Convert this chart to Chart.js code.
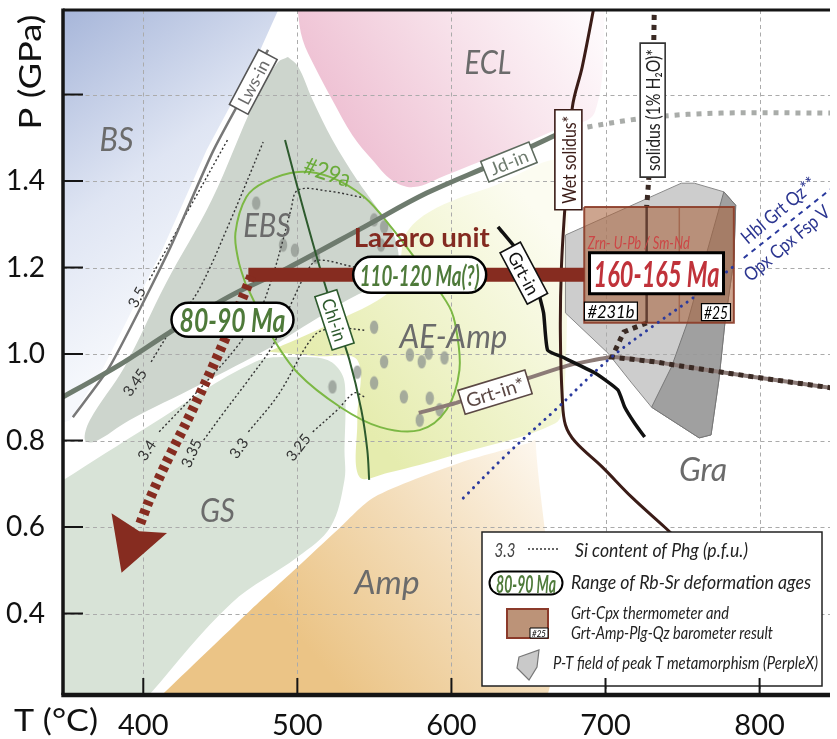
<!DOCTYPE html>
<html><head><meta charset="utf-8">
<script src="https://cdn.jsdelivr.net/npm/chart.js@4.4.1/dist/chart.umd.min.js"></script>
<style>html,body{margin:0;padding:0;background:#fff;}#wrap{width:837px;height:739px;position:relative;}</style>
</head><body><div id="wrap"><canvas id="c"></canvas></div>
<script>
// ---------- axes ----------
const X_RANGE = [347.9, 845.7];
const Y_RANGE = [0.2116, 1.7954];
const X_TICKS = [400, 500, 600, 700, 800];
const X_TICK_LABELS = ['400', '500', '600', '700', '800'];
const Y_TICKS = [0.4, 0.6, 0.8, 1.0, 1.2, 1.4, 1.6];
const Y_TICK_LABELS = ['0.4', '0.6', '0.8', '1.0', '1.2', '1.4', ''];

// ---------- metamorphic facies fields [T (°C), P (GPa)] ----------
const BS_FIELD = [[340,1.85],[490,1.85],[487.5,1.795],[475.9,1.703],[441.2,1.472],[412.2,1.240],[374.3,0.970],[352.4,0.847],[340,0.83]];
const ECL_FIELD = [[500.3,1.85],[500.3,1.795],[503.5,1.726],[511.3,1.664],[522.8,1.587],[535.7,1.506],[548.6,1.449],[561.4,1.402],[575.6,1.386],[596.8,1.414],[629.0,1.460],[667.5,1.518],[693.2,1.560],[700,1.85]];
const EBS_FIELD = [[493.9,1.687],[500.3,1.666],[510.0,1.587],[522.8,1.495],[538.9,1.402],[550.5,1.344],[561.4,1.287],[565.9,1.217],[561.4,1.180],[532.5,1.125],[500.3,1.055],[483.0,1.016],[436.0,0.928],[391.0,0.847],[368.5,0.797],[362.1,0.801],[365.3,0.847],[387.8,0.970],[414.8,1.164],[444.4,1.356],[472.7,1.587],[487.5,1.675],[493.9,1.687]];
const GS_FIELD = [[340,0.69],[403.9,0.834],[472.7,0.982],[500.3,0.993],[519.6,0.986],[529.3,0.951],[531.2,0.894],[530.6,0.778],[530.6,0.709],[521.5,0.600],[500.3,0.531],[457.2,0.424],[403.9,0.212],[395,0.17],[340,0.17],[340,0.69]];
const AE_AMP_FIELD = [[481.0,1.005],[519.6,1.067],[561.4,1.148],[566.6,1.213],[571.1,1.282],[590.4,1.338],[629.0,1.391],[670.7,1.449],[675.2,1.356],[675.2,1.125],[672.7,0.894],[667.5,0.840],[601.3,0.766],[558.2,0.725],[540.2,0.716],[538.9,0.847],[538.9,0.986],[513.2,0.995],[481.0,1.005]];
const AMP_FIELD = [[412.2,0.212],[468.2,0.403],[500.3,0.508],[526.0,0.593],[549.8,0.669],[605.2,0.748],[650.2,0.794],[654.7,0.801],[654.7,0.17],[405,0.17],[412.2,0.212]];

// PerpleX peak-T fields
const PERPLEX_LIGHT = [[674.0,1.275],[749.2,1.395],[757.6,1.395],[776.8,1.375],[784.5,1.344],[783.3,1.217],[777.5,1.072],[773.6,0.940],[768.5,0.813],[760.8,0.806],[729.9,0.877],[717.0,0.933],[701.6,1.002],[674.0,1.095],[674.0,1.275]];
const PERPLEX_DARK = [[776.8,1.375],[765.3,1.229],[753.1,1.072],[742.8,0.970],[729.9,0.877],[760.8,0.806],[768.5,0.813],[773.6,0.940],[777.5,1.072],[783.3,1.217],[784.5,1.344],[776.8,1.375]];

// Grt-Cpx thermometer / Grt-Amp-Plg-Qz barometer result
const THERMOBARO_T = [686.2, 783.3];
const THERMOBARO_P = [1.072, 1.340];
const THERMOBARO_SPLIT_T = [726.7, 747.9];

// reaction lines
const LWS_IN = [[481.0,1.703],[445.7,1.472],[416.7,1.240],[378.1,0.970],[354.3,0.854]];
const JD_IN = [[340,0.885],[384.6,0.975],[416.7,1.049],[455.3,1.132],[493.9,1.199],[543.4,1.294],[583.9,1.372],[629.0,1.442],[667.5,1.506]];
const JD_IN_EXT = [[667.5,1.506],[688.7,1.525],[731.8,1.548],[774.9,1.557],[850,1.557]];
const CHL_IN = [[492.0,1.495],[502.3,1.356],[513.2,1.217],[524.1,1.090],[533.8,0.986],[541.5,0.871],[545.4,0.778],[546.6,0.709]];
const GRT_IN = [[630.2,1.294],[646.3,1.224],[654.7,1.164],[659.8,1.095],[662.4,1.009],[672.0,0.993],[693.2,0.956],[708.0,0.917],[712.5,0.877],[718.9,0.840],[725.4,0.808]];
const GRT_IN_STAR = [[578.8,0.864],[603.2,0.887],[646.3,0.940],[677.2,0.975],[704.2,0.993],[731.8,0.982],[753.1,0.970],[796.2,0.947],[850,0.920]];
const WET_SOLIDUS = [[694,1.83],[684.9,1.664],[678.5,1.571],[674.0,1.356],[671.4,1.201],[670.7,1.049],[672.0,0.894],[674.0,0.836],[680.4,0.797],[697.8,0.739],[717.0,0.669],[738.3,0.600],[747.9,0.568]];
const SOLIDUS_1PCT_UPPER = [[731.8,1.83],[730.6,1.587],[728.0,1.402],[726.7,1.340]];
const SOLIDUS_1PCT_LOWER = [[726.7,1.072],[711.9,1.051],[704.2,0.993],[731.8,0.982],[753.1,0.970],[796.2,0.947],[850,0.920]];
const HBL_OPX = [[607.7,0.667],[635.4,0.766],[667.5,0.871],[701.6,0.986],[731.8,1.067],[757.6,1.132],[783.3,1.203]];
const HBL_OPX_EXT = [[789.7,1.222],[850,1.392]];
const LOOP_29A = [[466.2,1.164],[483.0,1.044],[500.3,0.956],[528.0,0.877],[553.7,0.831],[579.4,0.824],[596.8,0.871],[605.2,0.963],[603.2,1.055],[598.7,1.109],[582.0,1.194],[561.4,1.291],[543.4,1.363],[521.5,1.409],[500.3,1.421],[479.1,1.398],[466.9,1.363],[459.8,1.280],[461.7,1.217],[466.2,1.164]];

// Si content of phengite isopleths (p.f.u.)
const ISO_LABELS = ['3.5','3.45','3.4','3.35','3.3','3.25'];
const ISO_35 = [[403.9,1.171],[455.3,1.499]];
const ISO_345 = [[405.1,0.982],[419.9,1.067],[436.0,1.148],[455.3,1.298],[477.8,1.490]];
const ISO_34 = [[410.3,0.820],[437.9,0.924],[461.7,1.021],[475.9,1.102],[484.2,1.183],[490.7,1.264],[495.8,1.333],[500.3,1.379],[519.6,1.377],[543.4,1.361]];
const ISO_335 = [[439.2,0.801],[452.1,0.864],[468.2,0.940],[484.2,1.021],[497.1,1.125],[506.8,1.194],[513.2,1.217],[537.0,1.201]];
const ISO_33 = [[468.2,0.820],[487.5,0.905],[511.3,1.044],[526.0,1.060],[543.4,1.055]];
const ISO_325 = [[510.0,0.820],[526.0,0.871],[537.0,0.910],[543.4,0.901]];
const ISO_LABEL_T = [395.5,394.2,401.9,430.9,461.7,500.3];
const ISO_LABEL_P = [1.132,0.935,0.778,0.771,0.783,0.785];

// P-T path of the Lazaro unit
const LAZARO_P = 1.183;
const LAZARO_T = [468.2, 686.2];
const RETRO_PATH = [[470.1,1.180],[461.7,1.106],[450.8,1.016],[440.5,0.935],[427.7,0.840],[414.8,0.748],[403.9,0.662],[397.5,0.603]];
const ARROW_HEAD = [[379.4,0.632],[385.9,0.494],[415.4,0.586],[397.4,0.590],[379.4,0.632]];

// Phengite analyses (grey dots)
const DOT_T = [473.3,490.7,498.4,511.9,549.8,556.3,554.3,549.8,522.8,538.9,549.8,556.3,573.0,580.7,585.2,595.5,569.1,585.9,592.3,579.4];
const DOT_P = [1.349,1.252,1.240,1.224,1.310,1.294,1.252,1.062,0.924,0.958,0.933,0.982,0.998,0.982,1.002,0.991,0.901,0.898,0.871,0.847];

// text anchors
const FIELD_NAMES = ['BS','ECL','EBS','AE-Amp','GS','Amp','Gra'];
const FIELD_T = [382.6,623.8,480.4,601.3,448.2,558.2,763.3];
const FIELD_P = [1.495,1.673,1.296,1.039,0.637,0.471,0.732];
const LINE_NAMES = ['Lws-in','Jd-in','Wet solidus*','solidus (1% H₂O)*','Grt-in','Chl-in','Grt-in*'];
const LINE_NAME_T = [471.4,637.3,675.9,730.6,647.0,524.1,628.3];
const LINE_NAME_P = [1.629,1.444,1.449,1.564,1.187,1.079,0.912];
const AGE_TEXTS = ['80-90 Ma','110-120 Ma(?)','160-165 Ma'];
const AGE_T = [457.9,579.4,733.1];
const AGE_P = [1.079,1.183,1.187];
const NOTE_TEXTS = ['Lazaro unit','#29a','Zrn- U-Pb / Sm-Nd','#231b','#25','Hbl Grt Qz**','Opx Cpx Fsp V'];
const NOTE_T = [580.7,519.6,721.6,703.5,771.7,812.2,817.4];
const NOTE_P = [1.268,1.421,1.257,1.099,1.097,1.333,1.257];

// ---------- styles ----------
const FIELD_STYLE = {
  'BS':{w:34},'ECL':{w:47},'EBS':{w:48},'AE-Amp':{w:108},'GS':{w:35},'Amp':{w:65},'Gra':{w:48}
};
const LINE_STYLE = [
  {rot:-62, bw:62, bh:21, w:48, color:'#6a6a6a', stroke:'#555', size:17},
  {rot:-22, bw:52, bh:22, w:40, color:'#6e7b6e', stroke:'#5e6b5e', size:18},
  {rot:-90, bw:100, bh:27, w:88, color:'#3b1c17', stroke:'#3b1c17', size:20},
  {rot:-90, bw:134, bh:25, w:122, color:'#222', stroke:'#333', size:19},
  {rot:62, bw:58, bh:23, w:46, color:'#111', stroke:'#111', size:18},
  {rot:72, bw:56, bh:23, w:44, color:'#2d5a2d', stroke:'#2d5a2d', size:18},
  {rot:-17, bw:70, bh:25, w:60, color:'#5b4844', stroke:'#5b4844', size:19}
];
const AGE_STYLE = [
  {bw:122, bh:34, pill:true, lw:2.5, w:106, color:'#4e7a3a', size:32},
  {bw:133, bh:36, pill:true, lw:2.5, w:120, color:'#4e7a3a', size:28},
  {bw:134, bh:41, pill:false, lw:3, w:126, color:'#c0323a', size:36}
];
const NOTE_STYLE = [
  {font:'bold 26px Lato', color:'#832a20', w:136},
  {font:'24px Lato', color:'#6aab3a', w:48, rot:18},
  {font:'italic 17px Lato', color:'#cc4646', w:102},
  {font:'italic 17px Lato', color:'#000', w:47, box:{w:53,h:18,lw:1.2}},
  {font:'italic 17px Lato', color:'#000', w:24, box:{w:29,h:17,lw:1.2}},
  {font:'19px Lato', color:'#2b3590', w:92, rot:-40},
  {font:'19px Lato', color:'#2b3590', w:106, rot:-40}
];

// ---------- helpers ----------
const pts = a => a.map(p => ({x: p[0], y: p[1]}));
let ORDER = 1000;
function area(data, color, extra) {
  return Object.assign({type:'line', data: pts(data), fill:'shape', backgroundColor: color, borderColor:'rgba(0,0,0,0)', borderWidth:0, pointRadius:0, tension:0.35, order: ORDER--}, extra || {});
}
function line(data, color, width, extra) {
  return Object.assign({type:'line', data: pts(data), fill:false, borderColor: color, borderWidth: width, pointRadius:0, tension:0.35, order: ORDER--}, extra || {});
}
function grad(T0, P0, T1, P1, stops) {
  return c => {
    const ch = c.chart;
    if (!ch.chartArea || !ch.scales.x) return stops[0][1];
    const g = ch.ctx.createLinearGradient(ch.scales.x.getPixelForValue(T0), ch.scales.y.getPixelForValue(P0), ch.scales.x.getPixelForValue(T1), ch.scales.y.getPixelForValue(P1));
    stops.forEach(s => g.addColorStop(s[0], s[1]));
    return g;
  };
}
const ELLIPSE = (() => {
  const c = document.createElement('canvas'); c.width = 10; c.height = 15;
  const g = c.getContext('2d'); g.fillStyle = 'rgba(148,154,148,0.8)';
  g.beginPath(); g.ellipse(5, 7.5, 4.2, 6.8, 0, 0, Math.PI * 2); g.fill();
  return c;
})();
const rectPoly = (t, p) => [[t[0],p[1]],[t[1],p[1]],[t[1],p[0]],[t[0],p[0]],[t[0],p[1]]];

// ---------- datasets (bottom to top) ----------
const datasets = [
  area(BS_FIELD, grad(350,1.79,470,1.2,[[0,'#a8b7da'],[0.55,'#dfe5f3'],[1,'#f6f8fc']]), {tension:0}),
  area(ECL_FIELD, grad(540,1.43,690,1.78,[[0,'#eebfd2'],[0.6,'#f8e4ec'],[1,'#fefafc']])),
  area(EBS_FIELD, '#cdd5cd'),
  area(GS_FIELD, '#d8e3d7'),
  area(AE_AMP_FIELD, grad(540,0.85,675,1.25,[[0,'#e5ecae'],[0.6,'#f3f6d6'],[1,'#fcfcf1']])),
  area(AMP_FIELD, grad(500,0.35,655,0.8,[[0,'#ebc486'],[0.5,'#f3dcb8'],[1,'#fdf7ee']]), {tension:0.25}),
  area(PERPLEX_LIGHT, 'rgba(196,196,196,0.85)', {tension:0, borderWidth:1, borderColor:'#8a8a8a', gridBefore:true}),
  area(PERPLEX_DARK, 'rgba(150,150,150,0.8)', {tension:0, borderWidth:1, borderColor:'#777'}),
  {type:'scatter', data: DOT_T.map((t,i)=>({x:t, y:DOT_P[i]})), pointStyle: ELLIPSE, pointRadius:6, showLine:false, order: ORDER--},
  line(ISO_35, '#333', 1.4, {borderDash:[2,2.4]}),
  line(ISO_345, '#333', 1.4, {borderDash:[2,2.4]}),
  line(ISO_34, '#333', 1.4, {borderDash:[2,2.4]}),
  line(ISO_335, '#333', 1.4, {borderDash:[2,2.4]}),
  line(ISO_33, '#333', 1.4, {borderDash:[2,2.4]}),
  line(ISO_325, '#333', 1.4, {borderDash:[2,2.4]}),
  line(LOOP_29A, '#7cb844', 2),
  line(LWS_IN, '#787878', 2.5, {tension:0.2}),
  line(JD_IN, '#6e7b6e', 5),
  line(JD_IN_EXT, '#a9aca9', 5, {borderDash:[5,6], borderCapStyle:'butt'}),
  line(CHL_IN, '#2d5a2d', 2),
  line(GRT_IN_STAR, '#8c7b77', 4, {tension:0.1}),
  line(WET_SOLIDUS, '#3b1c17', 3),
  line(GRT_IN, '#111', 3.5, {tension:0.15}),
  line(SOLIDUS_1PCT_UPPER, '#3a2a24', 5, {borderDash:[5,5], tension:0.2}),
  line(SOLIDUS_1PCT_LOWER, '#3a2a24', 5, {borderDash:[5,5], tension:0}),
  area(rectPoly(THERMOBARO_T, THERMOBARO_P), 'rgba(168,100,62,0.58)', {tension:0, borderWidth:2, borderColor:'rgba(140,60,40,0.9)'}),
  line([[THERMOBARO_SPLIT_T[0],THERMOBARO_P[1]],[THERMOBARO_SPLIT_T[0],THERMOBARO_P[0]]], 'rgba(70,35,25,0.75)', 2.5, {tension:0}),
  line([[THERMOBARO_SPLIT_T[1],THERMOBARO_P[1]],[THERMOBARO_SPLIT_T[1],THERMOBARO_P[0]]], 'rgba(150,80,55,0.6)', 1.5, {tension:0}),
  line(HBL_OPX, '#2a3a9e', 3, {borderDash:[0.1,7], borderCapStyle:'round'}),
  line(HBL_OPX_EXT, '#2a3a9e', 2, {borderDash:[5,5], tension:0}),
  line([[LAZARO_T[0],LAZARO_P],[LAZARO_T[1],LAZARO_P]], '#862c20', 14, {tension:0, borderCapStyle:'butt'}),
  line(RETRO_PATH, '#862c20', 10, {borderDash:[5,4.5], borderCapStyle:'butt', tension:0.3}),
  area(ARROW_HEAD, '#862c20', {tension:0})
];

// ---------- drawing helpers ----------
function pathRound(ctx, x, y, w, h, r) {
  ctx.moveTo(x + r, y); ctx.lineTo(x + w - r, y); ctx.arc(x + w - r, y + r, r, -Math.PI/2, Math.PI/2);
  ctx.lineTo(x + r, y + h); ctx.arc(x + r, y + r, r, Math.PI/2, Math.PI*1.5); ctx.closePath();
}
function txt(ctx, s, x, y, o) {
  ctx.save();
  ctx.translate(x, y);
  if (o.rot) ctx.rotate(o.rot * Math.PI / 180);
  if (o.box) {
    const b = o.box;
    ctx.beginPath();
    if (b.pill) pathRound(ctx, -b.w/2, -b.h/2, b.w, b.h, b.h/2); else ctx.rect(-b.w/2, -b.h/2, b.w, b.h);
    ctx.fillStyle = b.fill || '#fff'; ctx.fill();
    ctx.lineWidth = b.lw || 1.5; ctx.strokeStyle = b.stroke || '#000'; ctx.stroke();
  }
  ctx.font = o.font; ctx.fillStyle = o.color || '#000';
  ctx.textBaseline = 'middle'; ctx.textAlign = o.align || 'center';
  if (o.w) { const m = ctx.measureText(s).width; if (m > 0) ctx.scale(o.w / m, 1); }
  ctx.fillText(s, 0, o.dy == null ? 1 : o.dy);
  ctx.restore();
}

function drawGrid(chart) {
  const ctx = chart.ctx, a = chart.chartArea, xs = chart.scales.x, ys = chart.scales.y;
  ctx.save();
  ctx.strokeStyle = '#ababab'; ctx.lineWidth = 1; ctx.setLineDash([4, 3.5]);
  X_TICKS.forEach(v => { const x = Math.round(xs.getPixelForValue(v)) + 0.5; ctx.beginPath(); ctx.moveTo(x, a.top); ctx.lineTo(x, a.bottom); ctx.stroke(); });
  Y_TICKS.forEach(v => { const y = Math.round(ys.getPixelForValue(v)) + 0.5; ctx.beginPath(); ctx.moveTo(a.left, y); ctx.lineTo(a.right, y); ctx.stroke(); });
  ctx.restore();
}

function drawFrame(chart) {
  const ctx = chart.ctx, a = chart.chartArea, xs = chart.scales.x, ys = chart.scales.y;
  ctx.save();
  ctx.strokeStyle = '#151515'; ctx.lineCap = 'butt';
  ctx.lineWidth = 3.5;
  ctx.beginPath(); ctx.moveTo(a.left, a.top - 1.5); ctx.lineTo(a.left, a.bottom); ctx.stroke();
  ctx.lineWidth = 3;
  ctx.beginPath(); ctx.moveTo(a.left, a.top); ctx.lineTo(a.right, a.top); ctx.stroke();
  ctx.lineWidth = 4.5;
  ctx.beginPath(); ctx.moveTo(a.left - 1.7, a.bottom); ctx.lineTo(a.right, a.bottom); ctx.stroke();
  ctx.lineWidth = 2;
  Y_TICKS.forEach(v => { const y = ys.getPixelForValue(v); ctx.beginPath(); ctx.moveTo(a.left, y); ctx.lineTo(a.left + 20, y); ctx.stroke(); });
  X_TICKS.forEach(v => { const x = xs.getPixelForValue(v); ctx.beginPath(); ctx.moveTo(x, a.bottom); ctx.lineTo(x, a.bottom - 17); ctx.stroke(); });
  ctx.restore();
  // axis titles
  txt(ctx, 'P (GPa)', 30, 72, {font:'30px Lato', color:'#111', rot:-90, w:115});
  txt(ctx, 'T (°C)', 14, 720, {font:'30px Lato', color:'#111', align:'left', w:84});
}

function drawLabels(chart) {
  const ctx = chart.ctx, xs = chart.scales.x, ys = chart.scales.y;
  const X = v => xs.getPixelForValue(v), Y = v => ys.getPixelForValue(v);
  FIELD_NAMES.forEach((s, i) => txt(ctx, s, X(FIELD_T[i]), Y(FIELD_P[i]), {font:'italic 32px Lato', color:'#6b6b6b', w: FIELD_STYLE[s].w}));
  ISO_LABELS.forEach((s, i) => txt(ctx, s, X(ISO_LABEL_T[i]), Y(ISO_LABEL_P[i]), {font:'15px Lato', color:'#333', rot:[-62,-55,-57,-65,-55,-52][i]}));
  LINE_NAMES.forEach((s, i) => {
    const st = LINE_STYLE[i];
    txt(ctx, s, X(LINE_NAME_T[i]), Y(LINE_NAME_P[i]), {font: st.size + 'px Lato', color: st.color, rot: st.rot, w: st.w, box:{w: st.bw, h: st.bh, lw: 1.6, stroke: st.stroke}});
  });
  NOTE_TEXTS.forEach((s, i) => {
    const st = NOTE_STYLE[i];
    txt(ctx, s, X(NOTE_T[i]), Y(NOTE_P[i]), {font: st.font, color: st.color, w: st.w, rot: st.rot, box: st.box});
  });
  AGE_TEXTS.forEach((s, i) => {
    const st = AGE_STYLE[i];
    txt(ctx, s, X(AGE_T[i]), Y(AGE_P[i]), {font: 'italic bold ' + st.size + 'px Lato', color: st.color, w: st.w, dy: 2, box:{w: st.bw, h: st.bh, pill: st.pill, lw: st.lw, stroke:'#000'}});
  });
}

function drawLegend(chart) {
  const ctx = chart.ctx, a = chart.chartArea;
  const R = a.right - 8, B = a.bottom - 9, L = R - 340, T = B - 154;
  ctx.save();
  ctx.fillStyle = '#fff'; ctx.fillRect(L, T, R - L, B - T);
  ctx.lineWidth = 1.5; ctx.strokeStyle = '#222'; ctx.strokeRect(L, T, R - L, B - T);
  ctx.restore();
  const F = 'italic 19px Lato';
  txt(ctx, '3.3', L + 23, T + 18, {font: F, color:'#444', w:21});
  ctx.save(); ctx.strokeStyle = '#333'; ctx.lineWidth = 1.4; ctx.setLineDash([2, 2]);
  ctx.beginPath(); ctx.moveTo(L + 46, T + 17); ctx.lineTo(L + 78, T + 17); ctx.stroke(); ctx.restore();
  txt(ctx, 'Si content of Phg (p.f.u.)', L + 93, T + 18, {font: F, color:'#222', align:'left', w:173});
  txt(ctx, '80-90 Ma', L + 44, T + 51, {font:'italic bold 24px Lato', color:'#4e7a3a', w:60, dy:2, box:{w:73, h:23, pill:true, lw:2, stroke:'#000'}});
  txt(ctx, 'Range of Rb-Sr deformation ages', L + 89, T + 50, {font: F, color:'#222', align:'left', w:240});
  ctx.save();
  ctx.fillStyle = '#bc9378'; ctx.fillRect(L + 25, T + 77, 41, 29);
  ctx.lineWidth = 2; ctx.strokeStyle = '#8b3a2a'; ctx.strokeRect(L + 25, T + 77, 41, 29);
  ctx.restore();
  txt(ctx, '#25', L + 57, T + 101, {font:'italic 9px Lato', color:'#000', w:14, box:{w:18, h:10, lw:1, stroke:'#000'}});
  txt(ctx, 'Grt-Cpx thermometer and', L + 89, T + 81, {font:'italic 17px Lato', color:'#222', align:'left', w:158});
  txt(ctx, 'Grt-Amp-Plg-Qz barometer result', L + 89, T + 101, {font:'italic 17px Lato', color:'#222', align:'left', w:202});
  ctx.save();
  ctx.beginPath(); ctx.moveTo(L + 37, T + 125); ctx.lineTo(L + 57, T + 118); ctx.lineTo(L + 55, T + 135); ctx.lineTo(L + 47, T + 148); ctx.lineTo(L + 35, T + 136); ctx.closePath();
  ctx.fillStyle = '#c9c9c9'; ctx.fill(); ctx.lineWidth = 1.2; ctx.strokeStyle = '#777'; ctx.stroke();
  ctx.restore();
  txt(ctx, 'P-T field of peak T metamorphism (PerpleX)', L + 71, T + 131, {font:'italic 17px Lato', color:'#222', align:'left', w:265});
}

const decor = {
  id: 'decor',
  beforeDatasetDraw(chart, args) {
    const ds = chart.data.datasets[args.index];
    if (ds && ds.gridBefore) drawGrid(chart);
  },
  afterDatasetsDraw(chart) {
    drawLabels(chart);
    drawLegend(chart);
    drawFrame(chart);
  }
};

const zeroPad = s => { s.paddingTop = 0; s.paddingBottom = 0; s.paddingLeft = 0; s.paddingRight = 0; };

new Chart(document.getElementById('c'), {
  type: 'line',
  data: { datasets },
  options: {
    responsive: true, maintainAspectRatio: false, animation: false,
    layout: { padding: { top: 10, right: 0, bottom: 0, left: 0 } },
    plugins: { legend: { display: false }, tooltip: { enabled: false }, filler: { propagate: false } },
    scales: {
      x: {
        type: 'linear', min: X_RANGE[0], max: X_RANGE[1],
        grid: { display: false }, border: { display: false },
        afterBuildTicks: s => { s.ticks = X_TICKS.map(v => ({ value: v })); },
        afterFit: s => { s.height = 44; zeroPad(s); },
        ticks: { font: { family: 'Lato', size: 29 }, color: '#111', padding: 5, maxRotation: 0, autoSkip: false,
          callback: v => { const i = X_TICKS.indexOf(v); return i < 0 ? '' : X_TICK_LABELS[i]; } }
      },
      y: {
        type: 'linear', min: Y_RANGE[0], max: Y_RANGE[1],
        grid: { display: false }, border: { display: false },
        afterBuildTicks: s => { s.ticks = Y_TICKS.map(v => ({ value: v })); },
        afterFit: s => { s.width = 63; zeroPad(s); },
        ticks: { font: { family: 'Lato', size: 28 }, color: '#111', padding: 10, autoSkip: false,
          callback: v => { const i = Y_TICKS.findIndex(t => Math.abs(t - v) < 1e-6); return i < 0 ? '' : Y_TICK_LABELS[i]; } }
      }
    }
  },
  plugins: [decor]
});
</script></body></html>
